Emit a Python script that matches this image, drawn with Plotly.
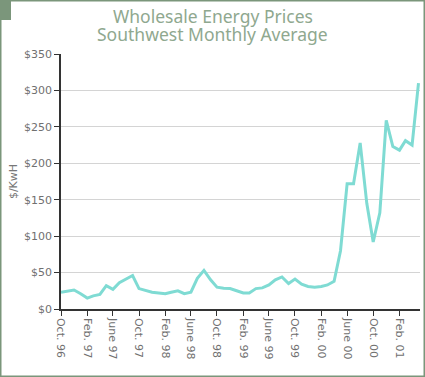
import plotly.graph_objects as go
import pandas as pd

# Monthly dates from Oct 1996 to May 2001
months = pd.date_range("1996-10-01", "2001-05-01", freq="MS").strftime("%Y-%m-%d").tolist()

# Southwest monthly average wholesale price, $/KwH
prices = [23, 24.5, 26, 21, 15, 18, 20, 32, 27, 36, 41, 46,
          28, 25.5, 23, 22, 21, 23, 25, 21, 23, 42, 53, 40,
          30, 28.5, 28, 25, 22, 22, 28, 29, 33, 40, 44, 35,
          41, 34, 31, 30, 31, 33, 38, 80, 172, 172, 228, 145,
          92, 132, 259, 223, 218, 231, 225, 310]

tick_dates = ["1996-10-01", "1997-02-01", "1997-06-01", "1997-10-01", "1998-02-01",
              "1998-06-01", "1998-10-01", "1999-02-01", "1999-06-01", "1999-10-01",
              "2000-02-01", "2000-06-01", "2000-10-01", "2001-02-01"]
tick_labels = ["Oct. 96", "Feb. 97", "June 97", "Oct. 97", "Feb. 98", "June 98",
               "Oct. 98", "Feb. 99", "June 99", "Oct. 99", "Feb. 00", "June 00",
               "Oct. 00", "Feb. 01"]

y_ticks = [0, 50, 100, 150, 200, 250, 300, 350]
y_labels = ["$0", "$50", "$100", "$150", "$200", "$250", "$300", "$350"]

title_lines = ["Wholesale Energy Prices", "Southwest Monthly Average"]

W, H = 425, 377
L, R, T, B = 61, 5, 54, 68
pw, ph = W - L - R, H - T - B

def px(x):
    return (x - L) / pw

def py(y):
    return (H - B - y) / ph

FONT = "DejaVu Sans"
TFONT = "Noto Sans"
green = "#7b967b"

fig = go.Figure()
fig.add_trace(go.Scatter(x=months, y=prices, mode="lines",
                         line=dict(color="#7fdbd3", width=3), hoverinfo="x+y"))

annotations = []
for line, ypix in zip(title_lines, [16, 34]):
    annotations.append(dict(text=line, xref="paper", yref="paper",
                            x=px(W / 2), y=py(ypix), xanchor="center", yanchor="middle",
                            showarrow=False,
                            font=dict(family=TFONT, size=17.5, color="#8fa88f")))

fig.update_layout(
    width=W, height=H,
    margin=dict(l=L, r=R, t=T, b=B, autoexpand=False),
    paper_bgcolor="white", plot_bgcolor="white",
    showlegend=False,
    font=dict(family=FONT, color="#6e6e6e", size=11),
    annotations=annotations,
    xaxis=dict(type="date", range=["1996-10-01", "2001-05-08"],
               tickmode="array", tickvals=tick_dates, ticktext=tick_labels,
               tickangle=90, ticks="outside", ticklen=5, tickcolor="#333",
               showline=True, linecolor="#333", linewidth=1.5,
               showgrid=False, zeroline=False,
               tickfont=dict(family=FONT, size=11, color="#707070")),
    yaxis=dict(range=[0, 350], tickmode="array", tickvals=y_ticks, ticktext=y_labels,
               ticks="outside", ticklen=5, tickcolor="#333",
               showline=True, linecolor="#333", linewidth=1.5,
               showgrid=True, gridcolor="#d4d4d4", gridwidth=1, zeroline=False,
               title=dict(text="$/KwH", standoff=4,
                          font=dict(family=FONT, size=11, color="#777")),
               tickfont=dict(family=FONT, size=11, color="#707070")),
    shapes=[
        dict(type="rect", xref="paper", yref="paper",
             x0=px(0.75), x1=px(W - 0.75), y0=py(0.75), y1=py(H - 0.75),
             line=dict(color=green, width=1.5), fillcolor="rgba(0,0,0,0)", layer="above"),
        dict(type="rect", xref="paper", yref="paper",
             x0=px(0), x1=px(11), y0=py(0), y1=py(20),
             line=dict(width=0), fillcolor=green, layer="above"),
    ],
)

fig.write_html("out.html", config={"displayModeBar": False},
               post_script="document.body.style.margin='0';document.body.style.padding='0';")
